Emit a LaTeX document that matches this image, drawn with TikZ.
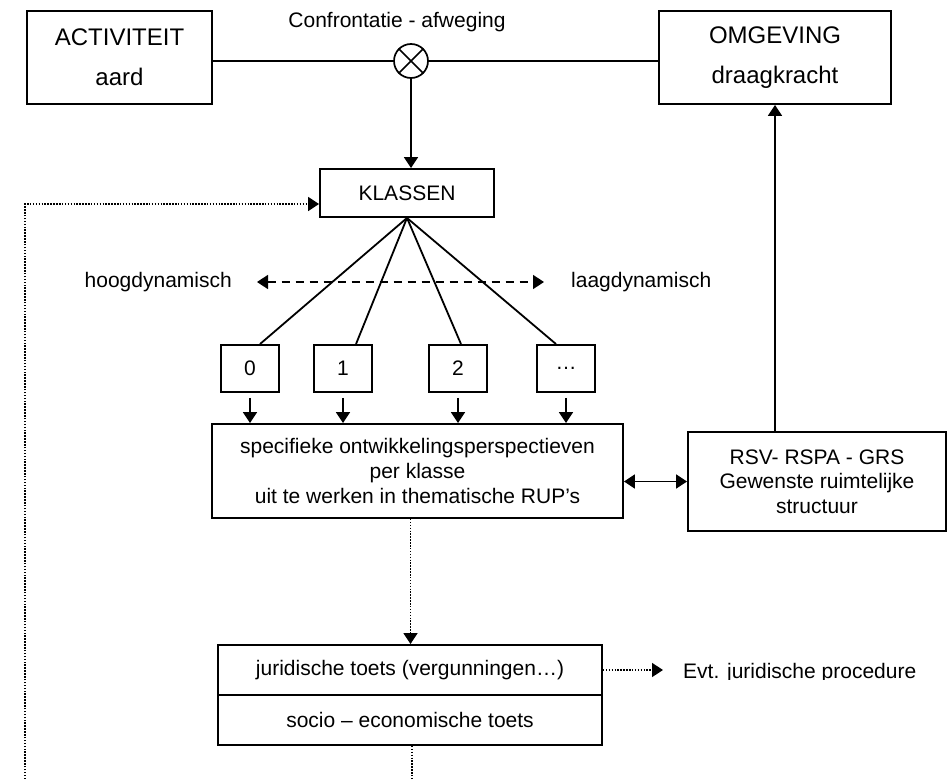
\documentclass[tikz,border=0pt]{standalone}
\usepackage{fontspec}
\setmainfont{Liberation Sans}
\usetikzlibrary{arrows.meta,calc}

\begin{document}
\begin{tikzpicture}[x=1pt,y=-1pt,
  box/.style={draw, line width=1.9pt, inner sep=0pt, align=center},
  txt/.style={font=\fontsize{21}{25}\selectfont},
  big/.style={font=\fontsize{24}{40}\selectfont},
  conn/.style={line width=1.8pt},
  tip/.style={-{Triangle[length=11pt,width=14pt]}},
  dots/.style={line width=1.6pt, dash pattern=on 1.5pt off 1.4pt},
]
\useasboundingbox (0,0) rectangle (948,779);

% top row: activity, confrontation, environment
\node[box, big, minimum width=185pt, minimum height=93pt] (act) at (119.5,57.5) {ACTIVITEIT\\aard};
\node[box, big, minimum width=232pt, minimum height=93pt] (omg) at (775,57.5) {OMGEVING\\draagkracht};
\node[draw, circle, line width=1.7pt, minimum size=34pt, inner sep=0pt] (cx) at (411,61) {};
\draw[line width=1.5pt] (cx.45) -- (cx.225) (cx.135) -- (cx.315);
\node[txt] (conf) at (397,22) {Confrontatie - afweging};
\draw[conn] (act.east |- cx.west) -- (cx.west);
\draw[conn] (cx.east) -- (cx.east -| omg.west);

% classes
\node[box, txt, minimum width=174pt, minimum height=48pt] (kl) at (407,193) {KLASSEN};
\draw[conn, tip] (cx.south) -- (cx.south |- kl.north);

\node[box, txt, minimum width=58pt, minimum height=47pt] (b0) at (250,368.5) {0};
\node[box, txt, minimum width=58pt, minimum height=47pt] (b1) at (343,368.5) {1};
\node[box, txt, minimum width=58pt, minimum height=47pt] (b2) at (458,368.5) {2};
\node[box, txt, minimum width=58pt, minimum height=47pt] (b3) at (566,368.5) {…};

\draw[conn] (kl.south) -- ([xshift=10pt]b0.north);
\draw[conn] (kl.south) -- ([xshift=13pt]b1.north);
\draw[conn] (kl.south) -- ([xshift=3pt]b2.north);
\draw[conn] (kl.south) -- ([xshift=-10pt]b3.north);

% dynamics scale
\node[txt, anchor=east, inner sep=0pt] (hoog) at (232,282) {hoogdynamisch};
\node[txt, anchor=west, inner sep=0pt] (laag) at (571,282) {laagdynamisch};
\draw[line width=1.6pt, dash pattern=on 8pt off 6pt,
      {Triangle[length=11pt,width=14pt]}-{Triangle[length=11pt,width=14pt]},
      shorten <=25pt, shorten >=27pt] (hoog.east) -- (laag.west);

% development perspectives
\node[box, txt, minimum width=411pt, minimum height=94pt] (spec) at (417.5,471)
  {specifieke ontwikkelingsperspectieven\\per klasse\\uit te werken in thematische RUP’s};
\foreach \b in {b0,b1,b2,b3}
  \draw[conn, tip, shorten <=5pt] (\b.south) -- (\b.south |- spec.north);

\node[box, txt, font=\fontsize{21}{24.5}\selectfont, minimum width=258pt, minimum height=99pt] (rsv) at (817,481.5)
  {RSV- RSPA - GRS\\Gewenste ruimtelijke\\structuur};
\draw[conn, {Triangle[length=11pt,width=14pt]}-{Triangle[length=11pt,width=14pt]}]
  (spec.east |- rsv.west) -- (rsv.west);
\draw[conn, tip] (rsv.north -| omg.south) -- (omg.south);

% tests
\node[box, txt, minimum width=384pt, minimum height=50pt] (jt) at (410,670) {juridische toets (vergunningen…)};
\node[box, txt, minimum width=384pt, minimum height=50pt] (st) at (410,720) {socio – economische toets};
\draw[dots, tip] ([xshift=-7pt]spec.south) -- ([xshift=-7pt]spec.south |- jt.north);

\begin{scope}
  \clip (660,640) rectangle (948,679);
  \node[txt, anchor=base west, inner sep=0pt] (evt) at (683,678) {Evt. juridische procedure};
\end{scope}
\draw[dots, tip, shorten >=20pt] (jt.east) -- (jt.east -| evt.west);

% feedback loop and outgoing link
\coordinate (fbb) at (25,779);
\coordinate (fbc) at (25,204);
\draw[dots, tip] (fbb) -- (fbc) -- (fbc -| kl.west);
\coordinate (stb) at (412,779);
\draw[dots] ([xshift=2pt]st.south) -- (stb);

\end{tikzpicture}
\end{document}
